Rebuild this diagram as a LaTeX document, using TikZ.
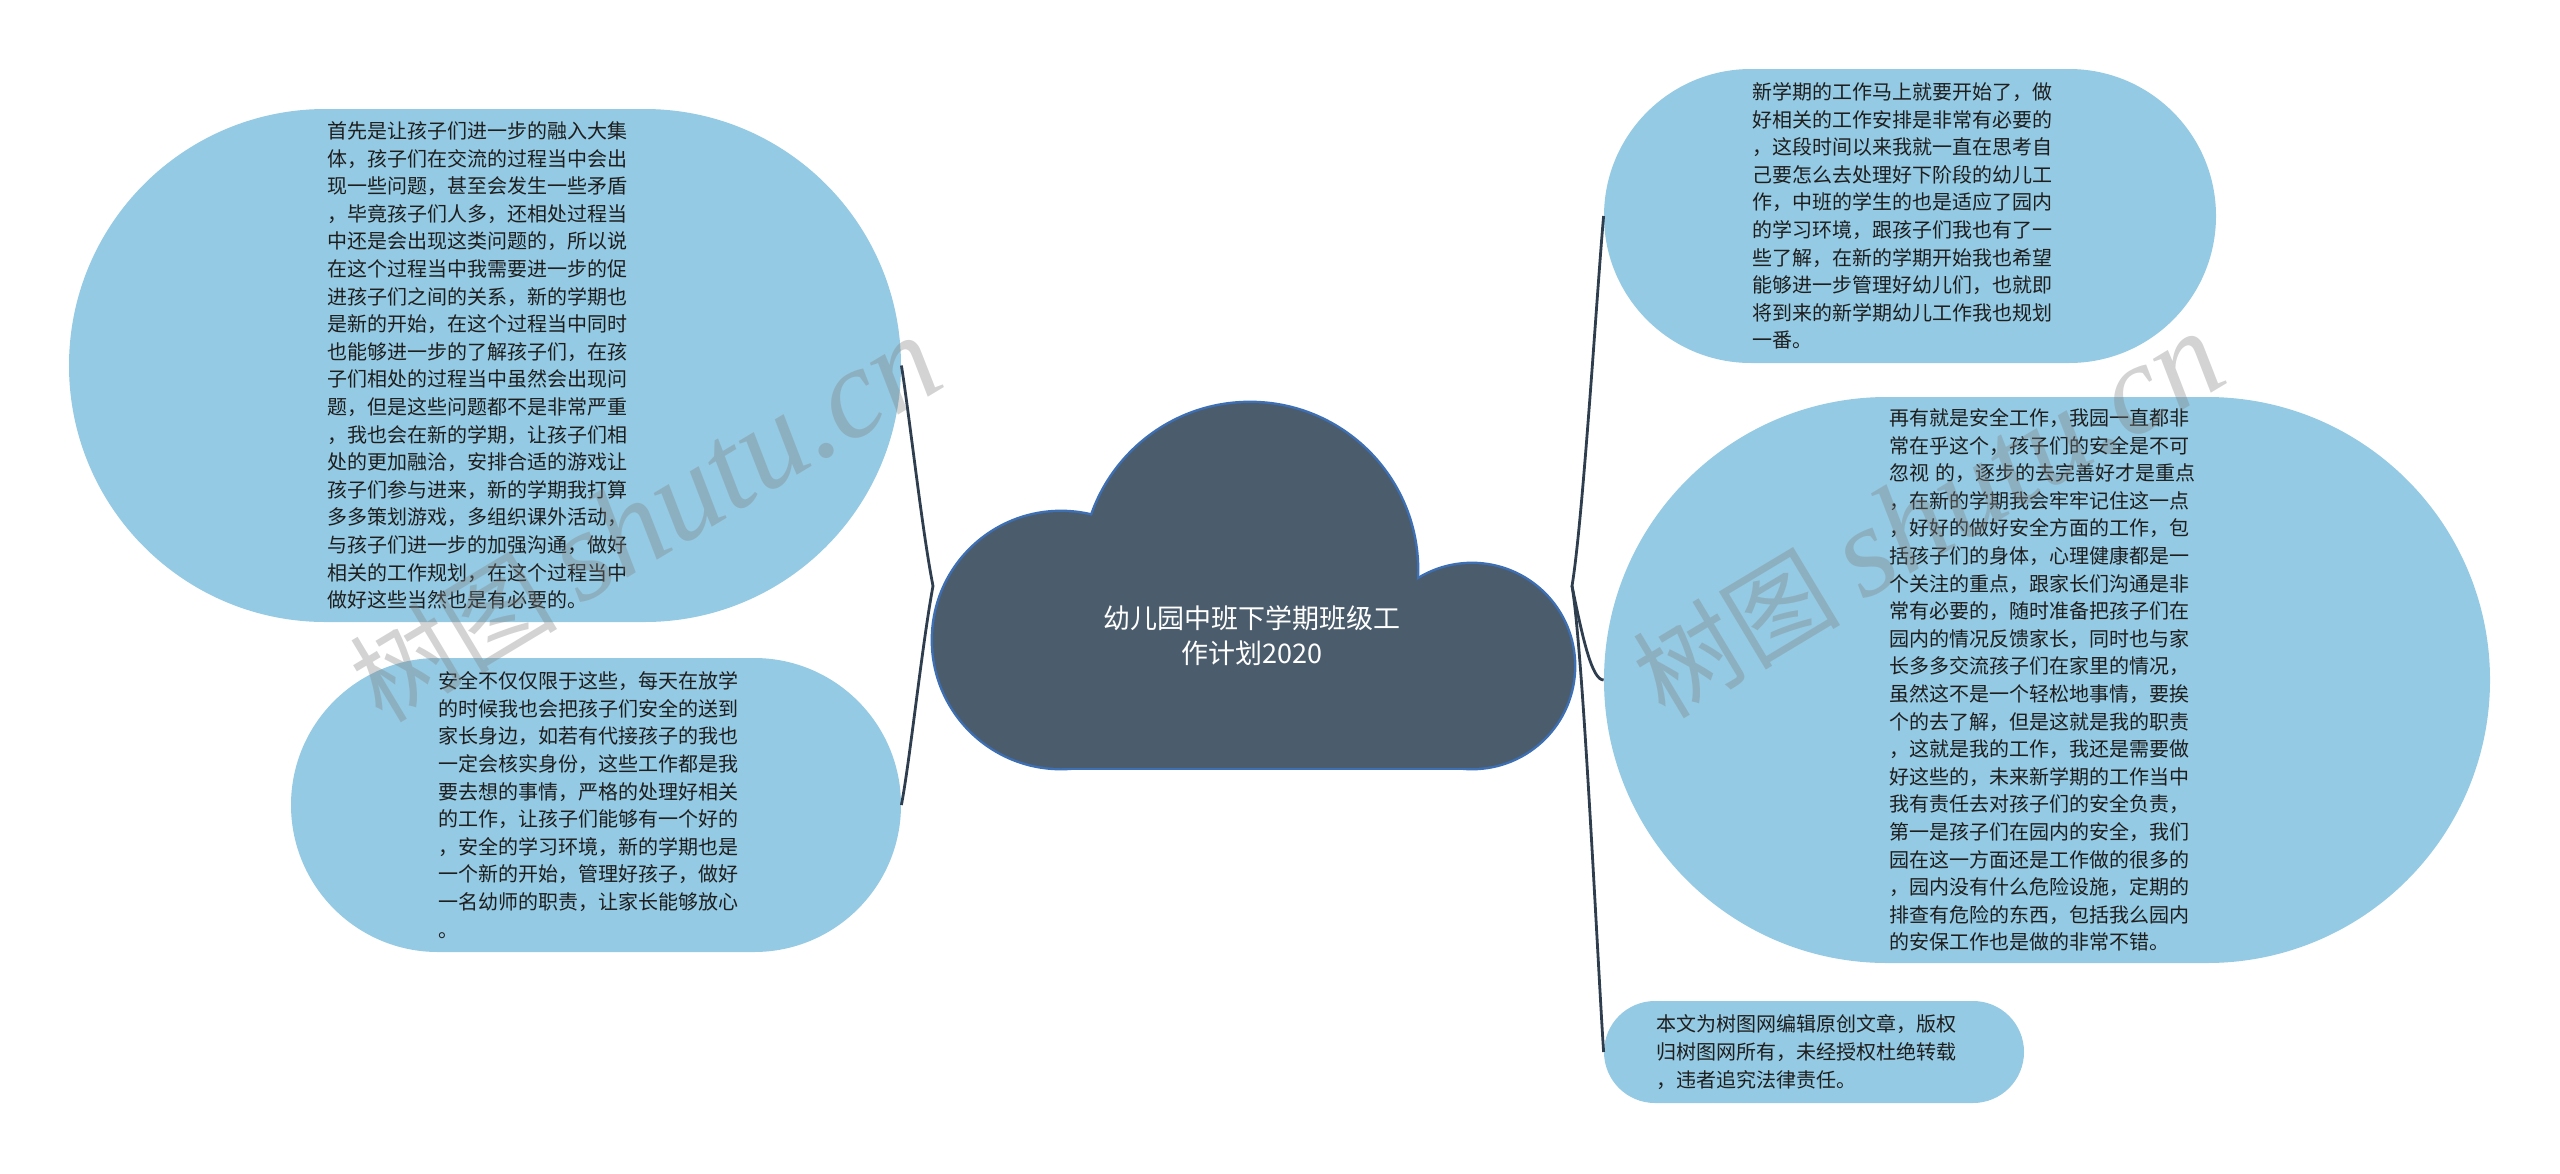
\documentclass[tikz,border=0pt]{standalone}
\usepackage{fontspec}
\newfontfamily\cjk{Noto Sans CJK SC}
\newfontfamily\wmserif{Liberation Serif}
\usetikzlibrary{shapes.misc}
\definecolor{nodeblue}{HTML}{94CAE3}
\definecolor{cloudfill}{HTML}{4B5C6D}
\definecolor{cloudedge}{HTML}{3D6FB5}
\definecolor{linkcol}{HTML}{2E3E4E}
\definecolor{txt}{HTML}{1E1E1E}
\begin{document}
\begin{tikzpicture}[x=0.5pt,y=-0.5pt,
  leaf/.style={rounded rectangle, fill=nodeblue, inner sep=0pt, text=txt,
    font=\cjk\fontsize{10}{13.8}\selectfont, align=left, text width=158pt},
  link/.style={draw=linkcol, line width=1.4pt},
  wmtext/.style={text=black!50, opacity=0.35, rotate=31, inner sep=0pt,
    font=\cjk\fontsize{52}{56}\selectfont},
  puff/.style={draw=cloudedge, line width=2.4pt},
  pufffill/.style={fill=cloudfill}
]
\useasboundingbox (0,0) rectangle (2560,1173);

% cloud (root)
\foreach \s in {puff,pufffill}{
  \path[\s] (1061,640) circle [radius=64pt];
  \path[\s] (1250,570) circle [radius=83.5pt];
  \path[\s] (1472,666) circle [radius=51pt];
  \path[\s] (1061,600) rectangle (1472,768);
}
\node[text=white, font=\cjk\fontsize{13.5}{17.5}\selectfont, align=center] (root) at (1252,636)
  {幼儿园中班下学期班级工\\作计划2020};
\coordinate (jl) at (933,586);
\coordinate (jr) at (1572,586);

% leaves
\node[leaf, minimum width=416pt, minimum height=256.5pt] (tl) at (485,365.5) {%
首先是让孩子们进一步的融入大集\\
体，孩子们在交流的过程当中会出\\
现一些问题，甚至会发生一些矛盾\\
，毕竟孩子们人多，还相处过程当\\
中还是会出现这类问题的，所以说\\
在这个过程当中我需要进一步的促\\
进孩子们之间的关系，新的学期也\\
是新的开始，在这个过程当中同时\\
也能够进一步的了解孩子们，在孩\\
子们相处的过程当中虽然会出现问\\
题，但是这些问题都不是非常严重\\
，我也会在新的学期，让孩子们相\\
处的更加融洽，安排合适的游戏让\\
孩子们参与进来，新的学期我打算\\
多多策划游戏，多组织课外活动，\\
与孩子们进一步的加强沟通，做好\\
相关的工作规划，在这个过程当中\\
做好这些当然也是有必要的。};

\node[leaf, minimum width=305pt, minimum height=147pt] (bl) at (596,805) {%
安全不仅仅限于这些，每天在放学\\
的时候我也会把孩子们安全的送到\\
家长身边，如若有代接孩子的我也\\
一定会核实身份，这些工作都是我\\
要去想的事情，严格的处理好相关\\
的工作，让孩子们能够有一个好的\\
，安全的学习环境，新的学期也是\\
一个新的开始，管理好孩子，做好\\
一名幼师的职责，让家长能够放心\\
。};

\node[leaf, minimum width=306pt, minimum height=147pt] (tr) at (1910,216) {%
新学期的工作马上就要开始了，做\\
好相关的工作安排是非常有必要的\\
，这段时间以来我就一直在思考自\\
己要怎么去处理好下阶段的幼儿工\\
作，中班的学生的也是适应了园内\\
的学习环境，跟孩子们我也有了一\\
些了解，在新的学期开始我也希望\\
能够进一步管理好幼儿们，也就即\\
将到来的新学期幼儿工作我也规划\\
一番。};

\node[leaf, minimum width=443pt, minimum height=283pt] (mr) at (2047,680) {%
再有就是安全工作，我园一直都非\\
常在乎这个，孩子们的安全是不可\\
忽视 的，逐步的去完善好才是重点\\
，在新的学期我会牢牢记住这一点\\
，好好的做好安全方面的工作，包\\
括孩子们的身体，心理健康都是一\\
个关注的重点，跟家长们沟通是非\\
常有必要的，随时准备把孩子们在\\
园内的情况反馈家长，同时也与家\\
长多多交流孩子们在家里的情况，\\
虽然这不是一个轻松地事情，要挨\\
个的去了解，但是这就是我的职责\\
，这就是我的工作，我还是需要做\\
好这些的，未来新学期的工作当中\\
我有责任去对孩子们的安全负责，\\
第一是孩子们在园内的安全，我们\\
园在这一方面还是工作做的很多的\\
，园内没有什么危险设施，定期的\\
排查有危险的东西，包括我么园内\\
的安保工作也是做的非常不错。};

\node[leaf, minimum width=210pt, minimum height=51pt] (br) at (1814,1052) {%
本文为树图网编辑原创文章，版权\\
归树图网所有，未经授权杜绝转载\\
，违者追究法律责任。};

% connectors
\draw[link] (jl) .. controls (922,530) and (910,420) .. (tl.east);
\draw[link] (jl) .. controls (922,645) and (910,760) .. (bl.east);
\draw[link] (jr) .. controls (1583,520) and (1597,290) .. (tr.west);
\draw[link] (jr) .. controls (1583,640) and (1592,680) .. (mr.west);
\draw[link] (jr) .. controls (1583,650) and (1597,950) .. (br.west);

% watermarks
\node[wmtext] (wm1) at (645,520) {树图 {\wmserif\itshape\fontsize{64}{66}\selectfont shutu.cn}};
\node[wmtext] (wm2) at (1928,516) {树图 {\wmserif\itshape\fontsize{64}{66}\selectfont shutu.cn}};
\end{tikzpicture}
\end{document}
